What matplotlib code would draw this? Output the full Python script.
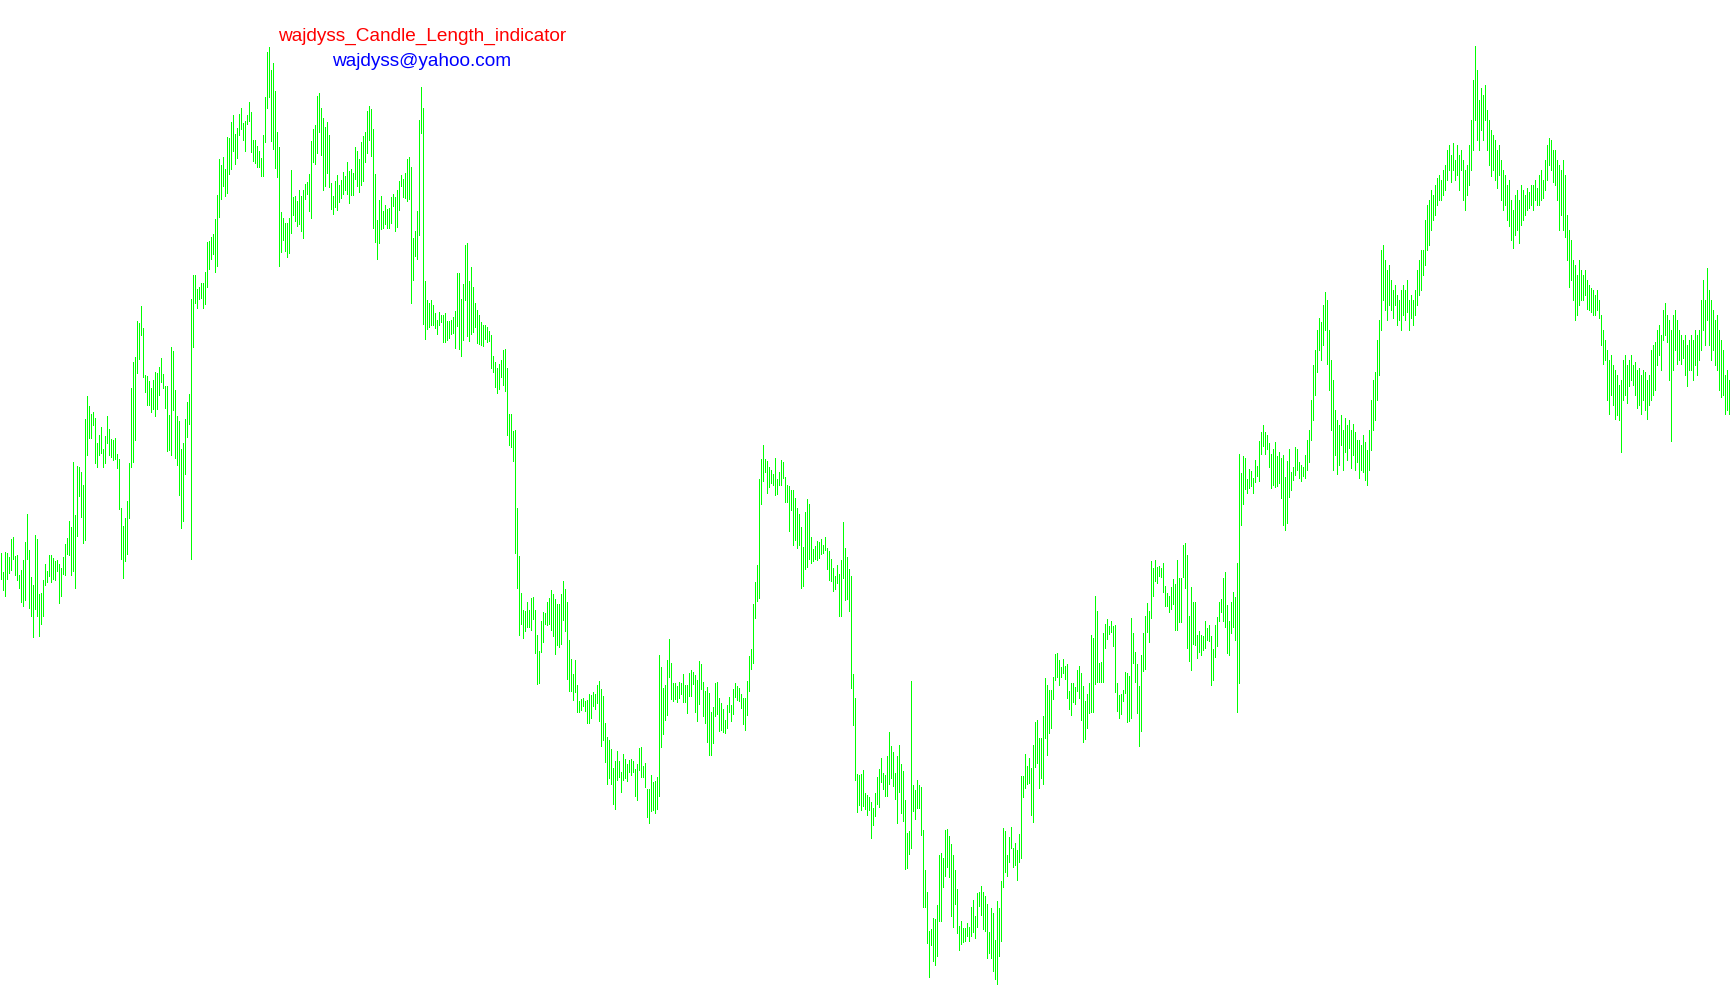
import numpy as np
import matplotlib
matplotlib.use("Agg")
import matplotlib.pyplot as plt

# bar extremes (price scale runs top-down, 0 at the top edge)
bar_top = [
    553, 572, 552, 553, 557, 539, 537, 556, 555, 575, 570, 560, 542, 514, 550, 577, 585, 535, 539, 594,
    593, 580, 564, 571, 555, 555, 558, 561, 560, 564, 568, 557, 544, 538, 521, 527, 462, 515, 466, 467,
    472, 485, 419, 396, 406, 414, 412, 418, 443, 435, 427, 449, 436, 416, 429, 439, 440, 438, 454, 459,
    508, 526, 518, 501, 463, 388, 362, 357, 321, 323, 306, 328, 375, 376, 381, 388, 380, 372, 373, 367,
    358, 374, 386, 386, 415, 347, 351, 390, 416, 421, 449, 443, 419, 402, 394, 299, 275, 275, 289, 287,
    283, 283, 272, 242, 241, 237, 234, 219, 195, 159, 165, 157, 169, 137, 138, 122, 115, 134, 128, 114,
    108, 123, 121, 115, 102, 112, 140, 140, 146, 151, 158, 135, 97, 52, 47, 70, 63, 91, 132, 147,
    212, 218, 223, 223, 218, 170, 197, 196, 201, 190, 196, 190, 184, 182, 174, 141, 129, 125, 96, 93,
    108, 118, 127, 122, 135, 183, 196, 181, 175, 185, 180, 172, 176, 162, 171, 169, 173, 147, 151, 159,
    142, 136, 132, 111, 106, 109, 129, 174, 220, 200, 196, 211, 205, 209, 208, 197, 194, 197, 190, 181,
    175, 179, 173, 159, 157, 167, 238, 231, 211, 120, 87, 108, 281, 300, 303, 300, 305, 313, 320, 312,
    315, 315, 313, 321, 321, 320, 317, 311, 273, 273, 299, 284, 245, 243, 281, 267, 287, 303, 310, 315,
    322, 325, 325, 327, 331, 335, 356, 362, 368, 364, 360, 350, 349, 368, 414, 414, 431, 430, 508, 556,
    593, 610, 611, 602, 610, 598, 597, 610, 635, 651, 621, 612, 613, 602, 598, 590, 594, 599, 604, 604,
    594, 581, 589, 602, 640, 659, 674, 660, 685, 701, 699, 698, 701, 700, 694, 695, 692, 694, 685, 681,
    689, 696, 723, 737, 740, 749, 768, 761, 751, 761, 772, 754, 759, 764, 760, 759, 761, 769, 764, 748,
    747, 766, 763, 789, 789, 775, 782, 781, 777, 655, 667, 688, 685, 660, 639, 663, 683, 683, 686, 682,
    683, 674, 685, 685, 673, 670, 672, 675, 680, 661, 664, 682, 691, 687, 693, 712, 707, 683, 682, 698,
    703, 709, 720, 705, 697, 705, 689, 683, 686, 688, 694, 698, 698, 681, 656, 649, 604, 582, 565, 479,
    459, 445, 459, 461, 467, 470, 474, 458, 479, 472, 460, 462, 477, 485, 486, 490, 490, 498, 508, 514,
    527, 547, 512, 499, 504, 537, 549, 546, 541, 542, 539, 545, 537, 548, 551, 559, 568, 576, 565, 574,
    560, 522, 548, 557, 569, 576, 674, 698, 774, 775, 774, 770, 793, 795, 797, 802, 808, 793, 777, 769,
    758, 773, 775, 756, 732, 746, 752, 773, 756, 745, 764, 771, 800, 833, 831, 681, 785, 790, 780, 785,
    787, 830, 870, 892, 931, 929, 918, 919, 905, 855, 853, 858, 830, 829, 836, 844, 855, 870, 889, 926,
    921, 928, 928, 923, 927, 907, 900, 916, 893, 892, 886, 892, 896, 904, 932, 908, 913, 940, 901, 908,
    881, 828, 831, 855, 837, 827, 848, 843, 850, 834, 776, 776, 754, 766, 758, 768, 745, 722, 720, 738,
    738, 716, 678, 685, 690, 690, 677, 654, 653, 660, 667, 659, 666, 664, 691, 683, 683, 687, 670, 666,
    673, 686, 701, 694, 683, 635, 638, 596, 611, 663, 662, 633, 624, 619, 626, 621, 626, 625, 683, 695,
    694, 690, 672, 673, 676, 618, 633, 652, 664, 686, 655, 633, 616, 603, 611, 561, 568, 560, 567, 566,
    568, 563, 586, 593, 596, 587, 579, 584, 560, 578, 578, 545, 543, 555, 616, 587, 602, 602, 635, 631,
    635, 636, 621, 628, 625, 636, 649, 625, 617, 602, 599, 578, 572, 605, 621, 602, 592, 597, 563, 454,
    473, 456, 458, 479, 469, 471, 478, 460, 466, 441, 432, 425, 432, 435, 443, 454, 449, 442, 456, 452,
    458, 455, 477, 461, 449, 472, 467, 447, 449, 462, 465, 467,
    455, 440, 430, 400, 365, 350, 330, 318, 322, 305, 292, 300, 330, 360, 380, 410, 420, 425, 415, 430,
    418, 425, 420, 430, 424, 432, 440, 440, 445, 435, 442, 450, 430, 400, 380, 372, 340, 320, 250, 245,
    260, 270, 265, 280, 290, 285, 295, 300, 290, 285, 290, 280, 300, 295, 300, 290, 270, 260, 250, 250,
    220, 205, 200, 190, 195, 185, 178, 175, 180, 170, 165, 150, 145, 155, 143, 160, 145, 155, 150, 160,
    170, 165, 145, 120, 80, 46, 70, 100, 88, 95, 85, 110, 120, 130, 135, 140, 150, 145, 160, 170,
    175, 185, 180, 200, 210, 195, 190, 200, 185, 190, 195, 188, 192, 185, 185, 180, 188, 175, 170, 180,
    160, 145, 138, 140, 150, 150, 160, 165, 170, 160, 175, 215, 230, 240, 260, 265, 275, 260, 270, 275,
    270, 280, 285, 288, 290, 295, 290, 300, 315, 330, 340, 350, 360, 355, 365, 370, 375, 385, 380, 360, 355,
    365, 360, 355, 365, 362, 370, 368, 375, 370, 372, 380, 375, 350, 345, 342, 330, 325, 335, 310, 303, 315,
    320, 330, 315, 310, 320, 330, 335, 340, 335, 345, 340, 335, 340, 330, 335, 330, 300, 280, 300, 268,
    290, 300, 310, 320, 315, 330, 340, 350, 375, 370, 380,
]
bar_bottom = [
    579, 590, 596, 579, 573, 570, 559, 575, 580, 588, 602, 606, 600, 559, 608, 616, 637, 609, 616, 636,
    624, 616, 585, 582, 576, 582, 579, 580, 571, 603, 596, 574, 575, 554, 555, 575, 571, 588, 536, 496,
    517, 543, 540, 455, 438, 438, 425, 463, 467, 455, 453, 467, 463, 443, 455, 457, 460, 459, 468, 509,
    559, 578, 561, 554, 518, 467, 462, 440, 373, 359, 335, 377, 392, 405, 405, 412, 409, 416, 409, 395,
    382, 388, 408, 451, 450, 455, 410, 458, 465, 495, 528, 521, 474, 437, 424, 559, 347, 303, 308, 299,
    298, 308, 304, 287, 269, 259, 254, 272, 266, 217, 199, 186, 196, 193, 174, 169, 151, 164, 158, 135,
    129, 140, 151, 124, 121, 152, 161, 163, 167, 167, 176, 176, 142, 108, 97, 141, 149, 168, 177, 266,
    252, 240, 251, 257, 253, 233, 215, 221, 226, 224, 231, 238, 199, 194, 211, 218, 162, 164, 153, 132,
    155, 190, 186, 173, 187, 209, 214, 207, 210, 202, 198, 194, 190, 194, 203, 195, 195, 179, 186, 192,
    185, 181, 162, 153, 140, 156, 228, 242, 259, 243, 229, 228, 224, 228, 228, 223, 206, 231, 227, 210,
    186, 197, 198, 201, 199, 303, 280, 256, 259, 235, 133, 324, 339, 329, 327, 325, 325, 328, 334, 325,
    322, 342, 342, 340, 338, 334, 333, 348, 326, 349, 356, 340, 300, 336, 341, 334, 332, 327, 343, 344,
    345, 346, 339, 342, 341, 368, 372, 387, 393, 389, 377, 385, 391, 435, 445, 447, 461, 553, 588, 635,
    624, 638, 631, 627, 627, 630, 619, 653, 684, 683, 652, 642, 624, 625, 624, 630, 636, 654, 645, 647,
    644, 620, 631, 679, 691, 691, 700, 692, 712, 712, 710, 706, 711, 723, 723, 718, 706, 709, 703, 721,
    746, 740, 762, 784, 778, 784, 804, 809, 780, 777, 792, 780, 778, 781, 772, 775, 772, 796, 800, 770,
    777, 777, 787, 817, 823, 811, 810, 813, 809, 796, 747, 734, 720, 715, 677, 699, 701, 699, 702, 698,
    694, 702, 702, 713, 696, 696, 684, 712, 721, 704, 689, 716, 723, 742, 755, 755, 743, 716, 714, 731,
    730, 732, 733, 728, 712, 721, 714, 697, 700, 701, 708, 724, 730, 715, 691, 669, 663, 618, 601, 598,
    504, 481, 472, 493, 487, 483, 485, 495, 494, 485, 485, 478, 502, 502, 531, 510, 545, 540, 548, 545,
    588, 586, 569, 567, 559, 563, 561, 559, 560, 558, 554, 553, 550, 569, 580, 581, 591, 589, 583, 616,
    616, 578, 600, 599, 611, 688, 725, 780, 812, 805, 810, 806, 809, 815, 810, 838, 825, 816, 804, 807,
    782, 789, 796, 796, 784, 778, 786, 799, 823, 792, 813, 821, 869, 868, 854, 848, 811, 819, 808, 808,
    835, 907, 907, 943, 977, 945, 961, 965, 956, 921, 921, 887, 876, 867, 877, 916, 927, 904, 933, 950,
    944, 942, 941, 936, 941, 936, 932, 938, 927, 906, 915, 929, 931, 958, 953, 958, 971, 979, 984, 956,
    941, 887, 872, 876, 862, 848, 867, 865, 880, 862, 858, 797, 788, 784, 783, 815, 822, 767, 763, 788,
    778, 784, 738, 755, 733, 728, 699, 680, 677, 685, 677, 673, 679, 698, 709, 715, 702, 704, 691, 698,
    720, 742, 739, 728, 713, 712, 712, 684, 682, 682, 682, 682, 648, 639, 634, 632, 646, 692, 711, 718,
    714, 701, 693, 722, 721, 718, 663, 682, 713, 746, 731, 671, 669, 632, 642, 618, 596, 581, 583, 576,
    577, 592, 606, 606, 612, 609, 604, 630, 630, 622, 622, 577, 588, 648, 661, 670, 644, 645, 658, 652,
    655, 650, 648, 640, 641, 685, 680, 657, 646, 621, 612, 621, 627, 653, 655, 633, 627, 640, 712, 683,
    525, 504, 489, 493, 488, 486, 493, 482, 476, 481, 454, 446, 454, 449, 467, 488, 485, 487, 486, 483,
    498, 525, 530, 523, 497, 490, 480, 475, 470, 478, 481, 476,
    478, 470, 462, 440, 420, 395, 372, 350, 360, 345, 330, 364, 390, 430, 470, 455, 474, 465, 445, 470,
    452, 460, 448, 468, 455, 470, 462, 478, 470, 472, 480, 485, 470, 450, 430, 420, 400, 375, 330, 300,
    310, 320, 305, 310, 318, 305, 325, 320, 330, 315, 320, 312, 330, 318, 325, 315, 305, 295, 290, 275,
    265, 250, 245, 230, 220, 215, 205, 200, 200, 195, 190, 180, 170, 182, 170, 180, 175, 190, 170, 200,
    210, 195, 185, 170, 150, 120, 140, 150, 130, 140, 120, 150, 165, 176, 170, 180, 188, 175, 200, 210,
    205, 220, 226, 240, 248, 235, 230, 243, 225, 220, 215, 210, 208, 205, 210, 200, 205, 205, 200, 198,
    190, 180, 165, 170, 182, 185, 200, 230, 215, 230, 237, 260, 287, 280, 300, 320, 315, 305, 300, 300,
    295, 309, 310, 312, 315, 315, 310, 318, 345, 364, 360, 400, 414, 395, 405, 419, 415, 420, 452, 400, 395,
    403, 386, 380, 385, 395, 408, 405, 414, 400, 410, 419, 405, 400, 395, 390, 365, 355, 370, 340, 335, 342,
    380, 441, 370, 350, 364, 360, 364, 358, 375, 386, 370, 370, 380, 365, 375, 360, 350, 330, 345, 320,
    345, 360, 350, 365, 370, 390, 397, 395, 414, 410, 414,
]

title_text = "wajdyss_Candle_Length_indicator"
email_text = "wajdyss@yahoo.com"

W, H = 1730, 1005
fig = plt.figure(figsize=(W / 100, H / 100), dpi=100)
ax = fig.add_axes([0, 0, 1, 1])
ax.axis("off")

n = min(len(bar_top), len(bar_bottom))
idx = np.arange(n)
ax.vlines(idx, bar_top[:n], bar_bottom[:n], colors="#00FF00",
          linewidth=0.72, antialiased=False)

# one bar every 2 px, first bar 1 px from the left edge
ax.set_xlim(-0.65, (W - 1.3) / 2)
ax.set_ylim(H, 0)

fig.text(422 / W, 1 - 41 / H, title_text, color="#FF0000", fontsize=13.7,
         family="Liberation Sans", ha="center", va="baseline")
fig.text(422 / W, 1 - 66 / H, email_text, color="#0000FF", fontsize=13.7,
         family="Liberation Sans", ha="center", va="baseline")

fig.savefig("out.png", dpi=100, facecolor="white")
